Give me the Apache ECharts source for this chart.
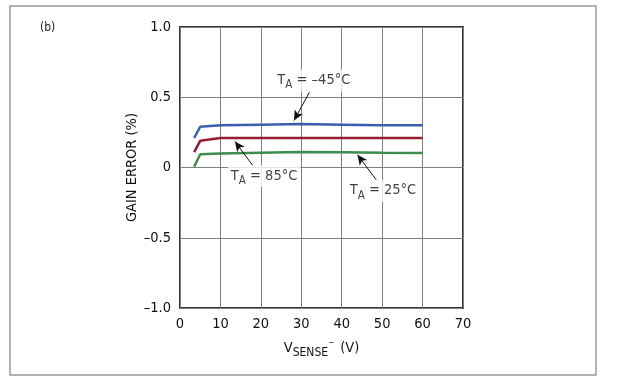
<!DOCTYPE html>
<html>
<head>
<meta charset="utf-8">
<script src="https://cdn.jsdelivr.net/npm/echarts@6/dist/echarts.min.js"></script>
<style>
html,body{margin:0;padding:0;background:#fff;}
#c{width:619px;height:385px;}
</style>
</head>
<body>
<div id="c"></div>
<script>
// ---- data ----
var vSense = [3.5, 5, 10, 20, 30, 40, 50, 60];
var gainM45 = [0.21, 0.29, 0.30, 0.305, 0.31, 0.305, 0.30, 0.30];
var gain85  = [0.11, 0.19, 0.21, 0.21, 0.21, 0.21, 0.21, 0.21];
var gain25  = [0.005, 0.094, 0.10, 0.105, 0.11, 0.108, 0.105, 0.103];
var seriesNames = ['–45', '85', '25'];
var xTicks = [0, 10, 20, 30, 40, 50, 60, 70];
var yTickLabels = {'-1': '–1.0', '-0.5': '–0.5', '0': '0', '0.5': '0.5', '1': '1.0'};
// annotation anchors (data space): label centre, arrow tail, arrow tip
var annLabelPos = [[33.1, 0.62], [20.8, -0.06], [50.2, -0.165]];
var annTail = [[32.0, 0.535], [18.1, 0.01], [48.6, -0.09]];
var annTip  = [[28.2, 0.335], [13.6, 0.185], [43.9, 0.09]];

var FONT = '"DejaVu Sans Condensed", "Liberation Sans Narrow", "Liberation Sans", Arial, sans-serif';
var TXT = '#111';
var colors = ['#3b5eae', '#981c2e', '#3e8b4f'];
var seriesData = [gainM45, gain85, gain25];

function pairs(xs, ys) { return xs.map(function (x, i) { return [x, ys[i]]; }); }

var series = seriesData.map(function (d, i) {
  return {
    type: 'line', name: seriesNames[i], data: pairs(vSense, d),
    showSymbol: false, symbol: 'none', smooth: false,
    lineStyle: { color: colors[i], width: 2.5 }, z: 3,
    markLine: {
      silent: true, symbol: ['none', 'arrow'], symbolSize: [7, 10],
      lineStyle: { color: '#111', width: 1, type: 'solid' },
      label: { show: false },
      data: [[{ coord: annTail[i] }, { coord: annTip[i] }]]
    }
  };
});

series.push({
  type: 'scatter', symbolSize: 0, silent: true, z: 5,
  data: annLabelPos.map(function (p, i) { return { value: p, name: seriesNames[i] }; }),
  label: {
    show: true, position: 'inside',
    formatter: function (p) { return '{t|T}{s|A}{t| = ' + p.name + '°C}'; },
    backgroundColor: '#fff', padding: [0, 3, 0, 3],
    rich: {
      t: { fontFamily: FONT, fontSize: 14.5, color: TXT, lineHeight: 22, verticalAlign: 'middle' },
      s: { fontFamily: FONT, fontSize: 11.5, color: TXT, lineHeight: 11, verticalAlign: 'bottom' }
    }
  }
});

var chart = echarts.init(document.getElementById('c'), null, { renderer: 'canvas' });
chart.setOption({
  animation: false,
  backgroundColor: '#fff',
  textStyle: { fontFamily: FONT },
  grid: { left: 180, right: 156, top: 27, bottom: 77, show: true, borderColor: '#333', borderWidth: 2, backgroundColor: 'transparent' },
  graphic: [
    { type: 'rect', shape: { x: 10, y: 6, width: 586, height: 369 }, style: { fill: 'none', stroke: '#9a9a9a', lineWidth: 1.5 }, silent: true },
    { type: 'text', left: 40, top: 22, style: { text: '(b)', fontFamily: FONT, fontSize: 12, fill: '#222' } }
  ],
  xAxis: {
    type: 'value', min: xTicks[0], max: xTicks[xTicks.length - 1], interval: 10,
    axisLine: { show: false }, axisTick: { show: false },
    splitLine: { show: true, lineStyle: { color: '#808080', width: 1 } },
    axisLabel: { fontFamily: FONT, fontSize: 14.5, color: TXT, margin: 9 },
    name: '{v|V}{s|SENSE}{p|–}{v| (V)}', nameLocation: 'middle', nameGap: 29,
    nameTextStyle: {
      rich: {
        v: { fontFamily: FONT, fontSize: 14.5, color: TXT, lineHeight: 22, verticalAlign: 'middle' },
        s: { fontFamily: FONT, fontSize: 12, color: TXT, lineHeight: 12, verticalAlign: 'bottom' },
        p: { fontFamily: FONT, fontSize: 11, color: TXT, lineHeight: 10, padding: [0, 2, 0, 1], verticalAlign: 'top' }
      }
    }
  },
  yAxis: {
    type: 'value', min: -1, max: 1, interval: 0.5,
    axisLine: { show: false }, axisTick: { show: false },
    splitLine: { show: true, lineStyle: { color: '#808080', width: 1 } },
    axisLabel: { fontFamily: FONT, fontSize: 14.5, color: TXT, margin: 9,
      formatter: function (v) { return yTickLabels[String(v)]; } },
    name: 'GAIN ERROR (%)', nameLocation: 'middle', nameGap: 34,
    nameTextStyle: { fontFamily: FONT, fontSize: 14.5, color: TXT }
  },
  series: series
});
</script>
</body>
</html>
